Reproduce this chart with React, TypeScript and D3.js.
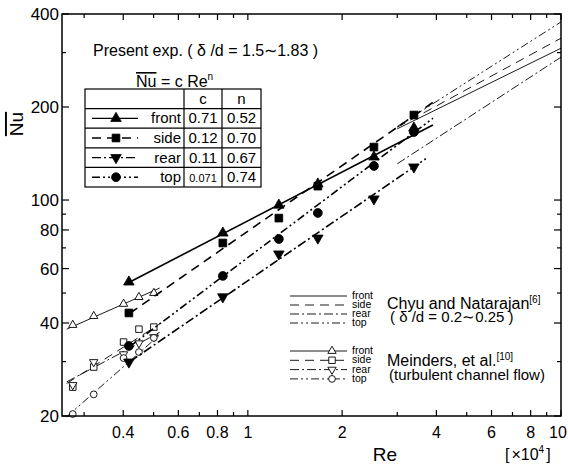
import * as d3 from "d3";

// axis ticks
const reMajor = [0.4, 0.6, 0.8, 1, 2, 4, 6, 8, 10];
const reMinor = [0.3, 0.5, 0.7, 0.9, 3, 5, 7, 9];
const nuMajor = [20, 40, 60, 80, 100, 200, 400];
const nuMinor = [30, 50, 70, 90, 300];

// present experiment (filled markers), Re in 10^4
const presentRe = [0.417, 0.832, 1.256, 1.673, 2.527, 3.39];
const presentFront = [54.3, 78.2, 96.3, 112.7, 137.8, 171];
const presentSide = [43.1, 72.6, 87.4, 110.9, 148.4, 188.4];
const presentRear = [29.9, 48.6, 66.9, 75.3, 100.8, 127.9];
const presentTop = [33.7, 56.8, 74.8, 90.8, 128.9, 166];

// correlation lines Nu = c Re^n (end points)
const fitFront: [number, number][] = [[0.42, 54.3], [3.9, 175]];
const fitSide: [number, number][] = [[0.42, 43], [3.9, 207]];
const fitRear: [number, number][] = [[0.42, 30], [3.7, 136]];
const fitTop: [number, number][] = [[0.42, 33.6], [3.9, 184]];

// table values
const tableRows = ["front", "side", "rear", "top"];
const tableC = ["0.71", "0.12", "0.11", "0.071"];
const tableN = ["0.52", "0.70", "0.67", "0.74"];

// Chyu and Natarajan
const chyuFront: [number, number][] = [[3.0, 170], [10, 310]];
const chyuSide: [number, number][] = [[3.0, 172], [10, 334]];
const chyuRear: [number, number][] = [[3.0, 131], [10, 290]];
const chyuTop: [number, number][] = [[3.0, 173], [10, 377]];

// Meinders et al. (open markers)
const meindersRe = [0.276, 0.322, 0.401, 0.449, 0.501];
const meindersFront = [39.4, 42.1, 46.1, 48.5, 50];
const meindersSide = [24.8, 28.8, 34.7, 38.2, 38.8];
const meindersRear = [25.2, 29.9, 31.7, 34.4, 36.0];
const meindersTop = [20.3, 23.5, 30.8, 32.2, 35.8];
const mFitFront: [number, number][] = [[0.264, 38.2], [0.523, 51.9]];
const mFitSide: [number, number][] = [[0.264, 25.5], [0.523, 39.7]];
const mFitRear: [number, number][] = [[0.264, 25.8], [0.523, 37.3]];
const mFitTop: [number, number][] = [[0.264, 19.9], [0.523, 36.6]];

const FONT = "'Liberation Sans', Arial, Helvetica, sans-serif";
const DASH = ["", "9 6", "9 3 2 3", "8 3 2 3 2 3"];

const triUp = (s: number) => d3.symbol().type(d3.symbolTriangle).size(s)() as string;
const square = (s: number) => d3.symbol().type(d3.symbolSquare).size(s)() as string;
const circle = (s: number) => d3.symbol().type(d3.symbolCircle).size(s)() as string;

// marker drawing: kind 0 up, 1 square, 2 down, 3 circle
function Marker({ kind, cx, cy, filled }: { kind: number; cx: number; cy: number; filled: boolean }) {
  const big = filled;
  const d =
    kind === 0 ? triUp(big ? 48 : 30) :
    kind === 1 ? square(big ? 60 : 42) :
    kind === 2 ? triUp(big ? 48 : 30) :
    circle(big ? 62 : 36);
  const rot = kind === 2 ? " rotate(180)" : "";
  return (
    <path
      d={d}
      transform={`translate(${cx},${cy})${rot}`}
      fill={filled ? "#000" : "#fff"}
      stroke="#000"
      strokeWidth={filled ? 0.8 : 0.9}
    />
  );
}

export default function App() {
  const x = d3.scaleLog().domain([0.255, 10]).range([62, 561]);
  const y = d3.scaleLog().domain([20, 400]).range([416, 14]);
  const line = d3.line<[number, number]>().x((d) => x(d[0])).y((d) => y(d[1]));
  const [x0, x1] = x.range();
  const [y0, y1] = y.range();

  const present = [presentFront, presentSide, presentRear, presentTop];
  const fits = [fitFront, fitSide, fitRear, fitTop];
  const chyu = [chyuFront, chyuSide, chyuRear, chyuTop];
  const meinders = [meindersFront, meindersSide, meindersRear, meindersTop];
  const mFits = [mFitFront, mFitSide, mFitRear, mFitTop];

  // table geometry
  const tL = 85, tR = 261, tT = 89, c1 = 184, c2 = 222, rowH = 19.6;

  return (
    <svg width={568} height={466} style={{ position: "absolute", left: 0, top: 0, background: "#fff" }} fontFamily={FONT}>
      <rect x={0} y={0} width={568} height={466} fill="#fff" />

      <defs>
        <clipPath id="plot">
          <rect x={x0} y={y1} width={x1 - x0} height={y0 - y1} />
        </clipPath>
      </defs>

      {/* Chyu lines */}
      <g clipPath="url(#plot)" fill="none" stroke="#000" strokeWidth={0.9}>
        {chyu.map((d, i) => (
          <path key={i} d={line(d) as string} strokeDasharray={DASH[i]} />
        ))}
      </g>

      {/* Meinders lines + markers */}
      <g fill="none" stroke="#000" strokeWidth={0.9}>
        {mFits.map((d, i) => (
          <path key={i} d={line(d) as string} strokeDasharray={DASH[i]} />
        ))}
      </g>
      {meinders.map((s, i) =>
        s.map((v, j) => <Marker key={`m${i}-${j}`} kind={i} cx={x(meindersRe[j])} cy={y(v)} filled={false} />)
      )}

      {/* present lines + markers */}
      <g fill="none" stroke="#000" strokeWidth={1.6}>
        {fits.map((d, i) => (
          <path key={i} d={line(d) as string} strokeDasharray={DASH[i]} />
        ))}
      </g>
      {present.map((s, i) =>
        s.map((v, j) => <Marker key={`p${i}-${j}`} kind={i} cx={x(presentRe[j])} cy={y(v)} filled={true} />)
      )}

      {/* frame */}
      <rect x={x0} y={y1} width={x1 - x0} height={y0 - y1} fill="none" stroke="#000" strokeWidth={1.5} />

      {/* ticks, inward on all four sides */}
      <g stroke="#000" strokeWidth={1.2}>
        {reMajor.concat(reMinor).map((t) => {
          const len = reMajor.includes(t) ? 6 : 4;
          return (
            <g key={`xt${t}`}>
              <line x1={x(t)} x2={x(t)} y1={y0} y2={y0 - len} />
              <line x1={x(t)} x2={x(t)} y1={y1} y2={y1 + len} />
            </g>
          );
        })}
        {nuMajor.concat(nuMinor).map((t) => {
          const len = nuMajor.includes(t) ? 7 : 4;
          return (
            <g key={`yt${t}`}>
              <line x1={x0} x2={x0 + len} y1={y(t)} y2={y(t)} />
              <line x1={x1} x2={x1 - len} y1={y(t)} y2={y(t)} />
            </g>
          );
        })}
      </g>

      {/* tick labels */}
      <g fontSize={16} textAnchor="middle">
        {reMajor.map((t) => (
          <text key={`xl${t}`} x={Math.min(x(t), 558)} y={y0 + 22}>{d3.format("~g")(t)}</text>
        ))}
      </g>
      <g fontSize={17} textAnchor="end">
        {nuMajor.map((t) => (
          <text key={`yl${t}`} x={x0 - 3} y={y(t) + 6}>{t}</text>
        ))}
      </g>

      {/* axis titles */}
      <text x={385} y={461} fontSize={19} textAnchor="middle">Re</text>
      <text x={505} y={460} fontSize={16}>
        [<tspan dx={2}>×</tspan>10<tspan dy={-7} fontSize={10}>4</tspan><tspan dy={7} dx={2}>]</tspan>
      </text>
      <text
        transform="translate(23,124) rotate(-90)"
        fontSize={19}
        textAnchor="middle"
        style={{ textDecoration: "overline" }}
      >
        Nu
      </text>

      {/* present exp legend */}
      <text x={93} y={56} fontSize={16}>Present exp. ( δ /d = 1.5∼1.83 )</text>
      <text x={136} y={87} fontSize={16}>
        <tspan style={{ textDecoration: "overline" }}>Nu</tspan> = c Re<tspan dy={-7} fontSize={10}>n</tspan>
      </text>
      <g stroke="#000" strokeWidth={1.2} fill="none">
        <rect x={tL} y={tT} width={tR - tL} height={rowH * 5} />
        <line x1={c1} x2={c1} y1={tT} y2={tT + rowH * 5} />
        <line x1={c2} x2={c2} y1={tT} y2={tT + rowH * 5} />
        {[1, 2, 3, 4].map((r) => (
          <line key={r} x1={tL} x2={tR} y1={tT + rowH * r} y2={tT + rowH * r} />
        ))}
      </g>
      <g fontSize={15} textAnchor="middle">
        <text x={(c1 + c2) / 2} y={tT + rowH / 2 + 5}>c</text>
        <text x={(c2 + tR) / 2} y={tT + rowH / 2 + 5}>n</text>
        {tableRows.map((r, i) => {
          const cy = tT + rowH * (i + 1.5);
          return (
            <g key={r}>
              <text x={181} y={cy + 5} textAnchor="end">{r}</text>
              <text x={(c1 + c2) / 2} y={cy + 5} fontSize={tableC[i].length > 4 ? 11 : 15}>{tableC[i]}</text>
              <text x={(c2 + tR) / 2} y={cy + 5}>{tableN[i]}</text>
              <line x1={92} x2={138} y1={cy} y2={cy} stroke="#000" strokeWidth={1.4} strokeDasharray={DASH[i]} />
              <Marker kind={i} cx={116} cy={cy} filled={true} />
            </g>
          );
        })}
      </g>

      {/* Chyu legend */}
      {tableRows.map((r, i) => {
        const ly = 296 + i * 9;
        return (
          <g key={`cl${r}`}>
            <line x1={290} x2={347} y1={ly} y2={ly} stroke="#000" strokeWidth={0.9} strokeDasharray={DASH[i]} />
            <text x={352} y={ly + 3} fontSize={10.5}>{r}</text>
          </g>
        );
      })}
      <text x={387} y={309} fontSize={16}>
        Chyu and Natarajan<tspan dy={-6} fontSize={10}>[6]</tspan>
      </text>
      <text x={390} y={322} fontSize={15}>( δ /d = 0.2∼0.25 )</text>

      {/* Meinders legend */}
      {tableRows.map((r, i) => {
        const ly = 351 + i * 9.3;
        return (
          <g key={`ml${r}`}>
            <line x1={290} x2={347} y1={ly} y2={ly} stroke="#000" strokeWidth={0.9} strokeDasharray={DASH[i]} />
            <Marker kind={i} cx={332} cy={ly} filled={false} />
            <text x={352} y={ly + 3} fontSize={10.5}>{r}</text>
          </g>
        );
      })}
      <text x={387} y={366} fontSize={16}>
        Meinders, et al.<tspan dy={-6} fontSize={10}>[10]</tspan>
      </text>
      <text x={389} y={380} fontSize={15}>(turbulent channel flow)</text>
    </svg>
  );
}
